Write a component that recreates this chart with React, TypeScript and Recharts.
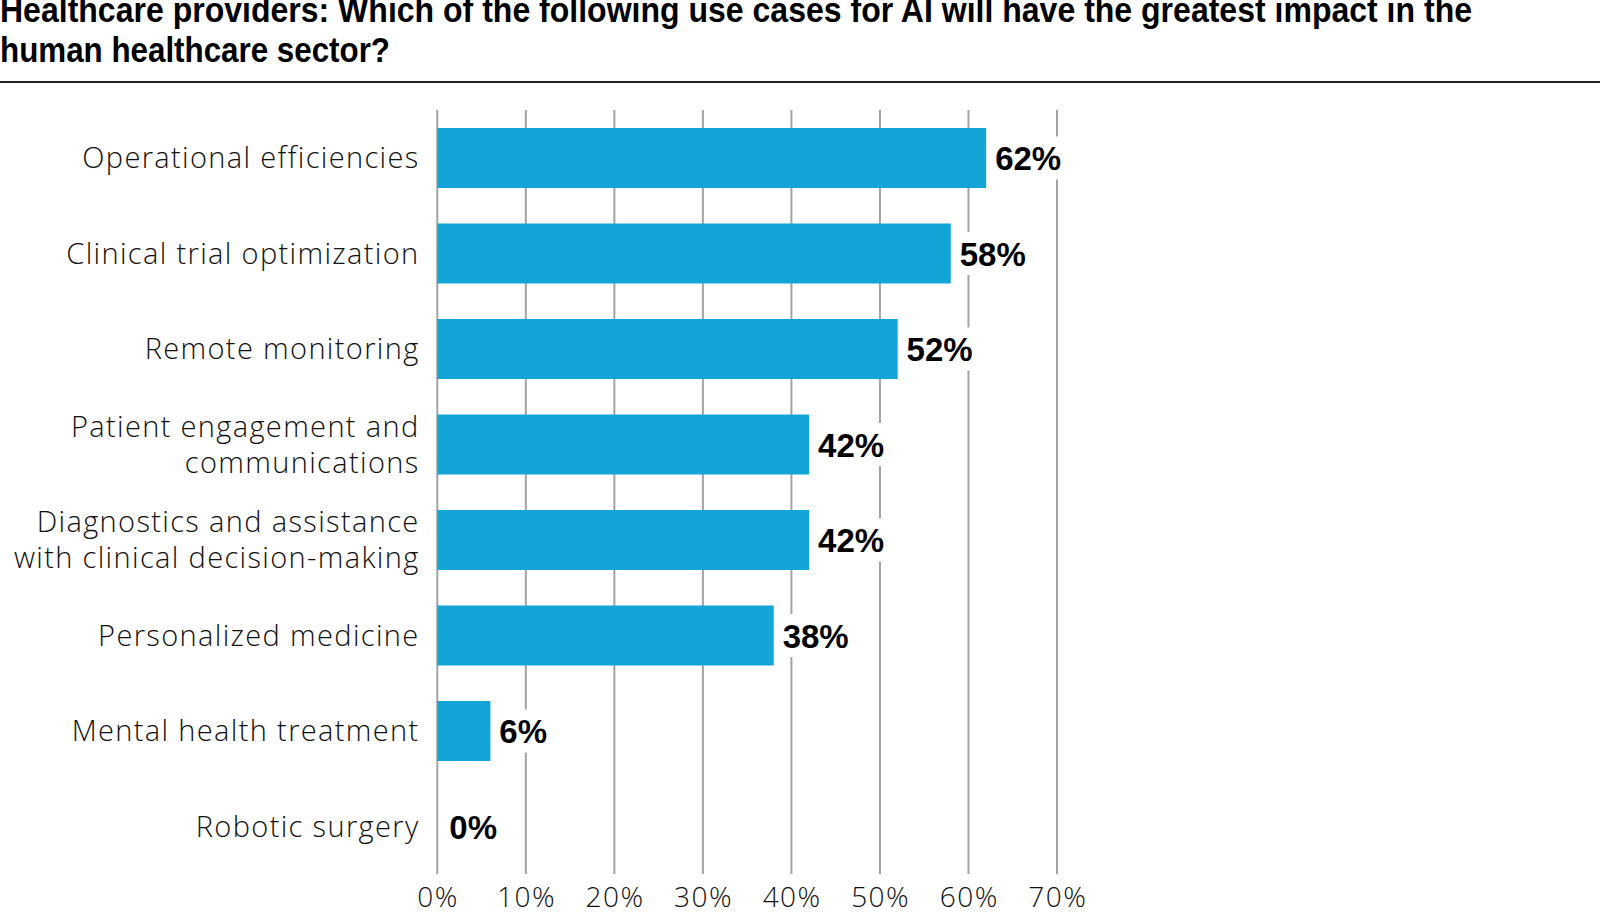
import React from "react";
import { BarChart, Bar, XAxis, YAxis, CartesianGrid, LabelList } from "recharts";

const titleLines = [
  "Healthcare providers: Which of the following use cases for AI will have the greatest impact in the",
  "human healthcare sector?",
];
const titleWidths = [1472, 390];

const categories = [
  "Operational efficiencies",
  "Clinical trial optimization",
  "Remote monitoring",
  "Patient engagement and\ncommunications",
  "Diagnostics and assistance\nwith clinical decision-making",
  "Personalized medicine",
  "Mental health treatment",
  "Robotic surgery",
];

const values = [62, 58, 52, 42, 42, 38, 6, 0];

const xTicks = [0, 10, 20, 30, 40, 50, 60, 70];

const data = categories.map((c, i) => ({ category: c, value: values[i] }));

const BAR_COLOR = "#14a4d7";
const GRID_COLOR = "#a3a3a3";
const LIGHT_FONT = "'Open Sans', 'Liberation Sans', Arial, sans-serif";
const BOLD_FONT = "'Liberation Sans', Arial, sans-serif";

const CategoryTick = (props: any) => {
  const { x, y, payload } = props;
  const lines = String(payload.value).split("\n");
  const lh = 35.7;
  const first = y + 10.4 - ((lines.length - 1) * lh) / 2;
  return (
    <text
      x={x + 1.3}
      y={first}
      textAnchor="end"
      fontFamily={LIGHT_FONT}
      fontWeight={300}
      fontSize={29}
      fill="#111"
      style={{ letterSpacing: "1.35px" }}
    >
      {lines.map((l, i) => (
        <tspan key={i} x={x + 1.3} y={first + i * lh}>
          {l}
        </tspan>
      ))}
    </text>
  );
};

const ValueTick = (props: any) => {
  const { x, y, payload } = props;
  return (
    <text
      x={x + 0.75}
      y={y + 32.7}
      textAnchor="middle"
      fontFamily={LIGHT_FONT}
      fontWeight={300}
      fontSize={28}
      fill="#111"
      style={{ letterSpacing: "1.5px" }}
    >
      {`${payload.value}%`}
    </text>
  );
};

const ValueLabel = (props: any) => {
  const { x, y, width, height, value } = props;
  const txt = `${value}%`;
  const tw = (txt.length - 1) * 18.35 + 29.3;
  const cx = Number(x) + Math.max(0, Number(width) - 0.05) + (Number(value) === 0 ? 3 : 0);
  const cy = Number(y) + Number(height) / 2;
  return (
    <g>
      <rect x={cx + 4} y={cy - 21.5} width={tw + 10} height={43} fill="#ffffff" />
      <text
        x={cx + 9}
        y={cy + 12}
        fontFamily={BOLD_FONT}
        fontWeight={700}
        fontSize={33}
        fill="#000"
      >
        {txt}
      </text>
    </g>
  );
};

export default function App() {
  return (
    <div
      style={{
        position: "fixed",
        left: 0,
        top: 0,
        width: 1600,
        height: 920,
        background: "#ffffff",
        overflow: "hidden",
      }}
    >
      <BarChart
        width={1600}
        height={920}
        data={data}
        layout="vertical"
        margin={{ top: 110, right: 543, bottom: 16, left: 417.3 }}
        barSize={60}
      >
        <CartesianGrid vertical horizontal={false} stroke={GRID_COLOR} strokeWidth={2} />
        <XAxis
          type="number"
          domain={[0, 70]}
          ticks={xTicks}
          interval={0}
          axisLine={false}
          tickLine={false}
          tickSize={0}
          tickMargin={0}
          height={30}
          tick={<ValueTick />}
        />
        <YAxis
          type="category"
          dataKey="category"
          width={20}
          interval={0}
          axisLine={false}
          tickLine={false}
          tickSize={0}
          tickMargin={19}
          tick={<CategoryTick />}
        />
        <Bar
          dataKey="value"
          fill={BAR_COLOR}
          minPointSize={0.05}
          isAnimationActive={false}
        >
          <LabelList dataKey="value" content={<ValueLabel />} />
        </Bar>
      </BarChart>
      <svg
        width={1600}
        height={100}
        style={{ position: "absolute", left: 0, top: 0 }}
      >
        {titleLines.map((t, i) => (
          <text
            key={i}
            x={0}
            y={21.5 + i * 40}
            fontFamily={BOLD_FONT}
            fontWeight={700}
            fontSize={34.5}
            fill="#000"
            textLength={titleWidths[i]}
            lengthAdjust="spacingAndGlyphs"
          >
            {t}
          </text>
        ))}
        <line x1={0} x2={1600} y1={82} y2={82} stroke="#222" strokeWidth={2} />
      </svg>
    </div>
  );
}
